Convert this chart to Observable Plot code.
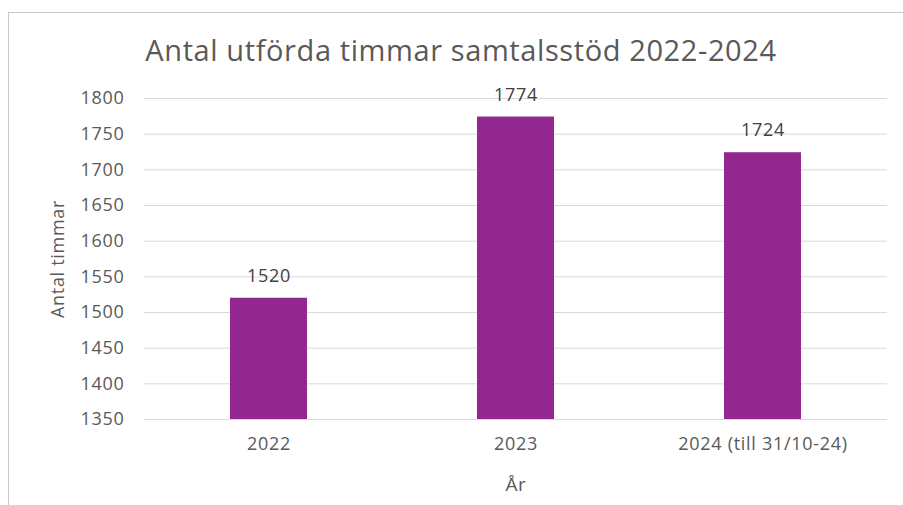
<!DOCTYPE html>
<html>
<head>
<meta charset="utf-8">
<script src="https://cdn.jsdelivr.net/npm/d3@7"></script>
<script src="https://cdn.jsdelivr.net/npm/@observablehq/plot@0.6"></script>
<style>
  html, body { margin: 0; padding: 0; background: #fff; }
  #wrap { position: relative; width: 903px; height: 505px; overflow: hidden; font-family: "Open Sans", sans-serif; }
  #frame { position: absolute; left: 8px; top: 12px; width: 1000px; height: 600px; border-left: 1.5px solid #c8c8c8; border-top: 1.5px solid #c8c8c8; }
  #title { position: absolute; left: 0; width: 922px; top: 29px; text-align: center; font-size: 29px; letter-spacing: 0.6px; line-height: 42px; color: #595959; white-space: nowrap; }
  #chart { position: absolute; left: 0; top: 0; }
  #chart svg text { letter-spacing: 0.7px; }
</style>
</head>
<body>
<div id="wrap">
  <div id="frame"></div>
  <div id="chart"></div>
  <div id="title">Antal utförda timmar samtalsstöd 2022-2024</div>
</div>
<script>
const categories = ["2022", "2023", "2024 (till 31/10-24)"];
const values = [1520, 1774, 1724];
const yTicks = [1350, 1400, 1450, 1500, 1550, 1600, 1650, 1700, 1750, 1800];

const data = categories.map((c, i) => ({ year: c, value: values[i] }));
const font = "'Open Sans', sans-serif";

const chart = Plot.plot({
  width: 903,
  height: 505,
  marginTop: 98,
  marginBottom: 86,
  marginLeft: 144,
  marginRight: 16,
  style: { fontFamily: font, fontSize: "16px", color: "#595959", background: "transparent" },
  x: { domain: categories, paddingInner: 0.69, paddingOuter: 0.345, label: null },
  y: { domain: [1350, 1800], label: null },
  marks: [
    Plot.gridY(yTicks, { stroke: "#d9d9d9", strokeOpacity: 1, strokeWidth: 1 }),
    Plot.barY(data, { x: "year", y1: 1350, y2: "value", fill: "#92278F" }),
    Plot.text(data, { x: "year", y: "value", text: d => String(d.value), dy: -22, fill: "#404040", fontSize: 18 }),
    Plot.axisX({ tickSize: 0, tickPadding: 18, fill: "#595959", fontSize: 18, label: null }),
    Plot.axisY(yTicks, { tickSize: 0, tickPadding: 20, fill: "#595959", fontSize: 18, label: null, tickFormat: "d" }),
    Plot.text(["År"], { frameAnchor: "bottom", dy: 71, fill: "#595959", fontSize: 19 }),
    Plot.text(["Antal timmar"], { frameAnchor: "left", dx: -86, rotate: -90, textAnchor: "middle", fill: "#595959", fontSize: 18 })
  ]
});
document.getElementById("chart").appendChild(chart);
</script>
</body>
</html>
